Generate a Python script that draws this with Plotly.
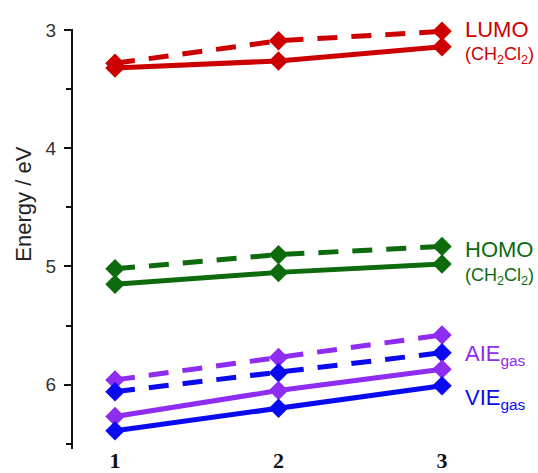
import plotly.graph_objects as go

compounds = [1, 2, 3]
tick_labels = ["1", "2", "3"]

lumo_solid = [3.32, 3.26, 3.14]
lumo_dashed = [3.28, 3.09, 3.01]
homo_solid = [5.15, 5.05, 4.98]
homo_dashed = [5.02, 4.90, 4.83]
aie_solid = [6.27, 6.05, 5.87]
aie_dashed = [5.96, 5.77, 5.58]
vie_solid = [6.39, 6.20, 6.01]
vie_dashed = [6.06, 5.90, 5.73]

RED = "#cc0000"
GREEN = "#0d6b0d"
PURPLE = "#8e2cf2"
BLUE = "#0a0af0"

series = [
    (lumo_dashed, RED, "20px,14px"),
    (lumo_solid, RED, "solid"),
    (homo_dashed, GREEN, "20px,14px"),
    (homo_solid, GREEN, "solid"),
    (aie_dashed, PURPLE, "20px,14px"),
    (vie_dashed, BLUE, "20px,14px"),
    (aie_solid, PURPLE, "solid"),
    (vie_solid, BLUE, "solid"),
]

fig = go.Figure()
for vals, col, dash in series:
    fig.add_trace(go.Scatter(
        x=compounds, y=vals, mode="lines+markers",
        line=dict(color=col, width=5, dash=dash),
        marker=dict(symbol="diamond", size=15, color=col),
        cliponaxis=False, showlegend=False,
    ))

fig.update_layout(
    width=538, height=473,
    margin=dict(l=73, r=78, t=29, b=24),
    paper_bgcolor="white", plot_bgcolor="white",
    font=dict(family="Liberation Sans, Arial, sans-serif", color="#222"),
    xaxis=dict(
        range=[0.743, 3.11], tickvals=compounds, ticktext=tick_labels,
        showgrid=False, zeroline=False, showline=False, ticks="",
        ticklabelstandoff=-4, automargin=False,
        tickfont=dict(family="Liberation Serif, Times New Roman, serif", size=22, color="#111", weight="bold"),
    ),
    yaxis=dict(
        range=[6.545, 2.99], tickvals=[3, 4, 5, 6], showgrid=False, zeroline=False,
        showline=True, linecolor="#111", linewidth=2, automargin=False,
        ticks="outside", ticklen=7, tickwidth=2, tickcolor="#111",
        ticklabelstandoff=4,
        minor=dict(tickvals=[3.5, 4.5, 5.5, 6.5], ticks="outside", ticklen=5, tickwidth=2, tickcolor="#111", showgrid=False),
        tickfont=dict(size=19, color="#333"),
    ),
)

def label(text, y, col, size):
    fig.add_annotation(text=text, xref="paper", yref="paper", x=1.008, y=y,
                       xanchor="left", yanchor="middle", showarrow=False,
                       font=dict(size=size, color=col))

label("LUMO", 1.0, RED, 22)
label("(CH<sub>2</sub>Cl<sub>2</sub>)", 0.938, RED, 18)
label("HOMO", 0.474, GREEN, 22)
label("(CH<sub>2</sub>Cl<sub>2</sub>)", 0.41, GREEN, 18)
label("AIE<sub>gas</sub>", 0.224, PURPLE, 22)
label("VIE<sub>gas</sub>", 0.119, BLUE, 22)

fig.add_annotation(text="Energy / eV", xref="paper", yref="paper", x=-0.129, y=0.582,
                   textangle=-90, showarrow=False, xanchor="center", yanchor="middle",
                   font=dict(size=22, color="#222"))

fig.write_html("out.html")
